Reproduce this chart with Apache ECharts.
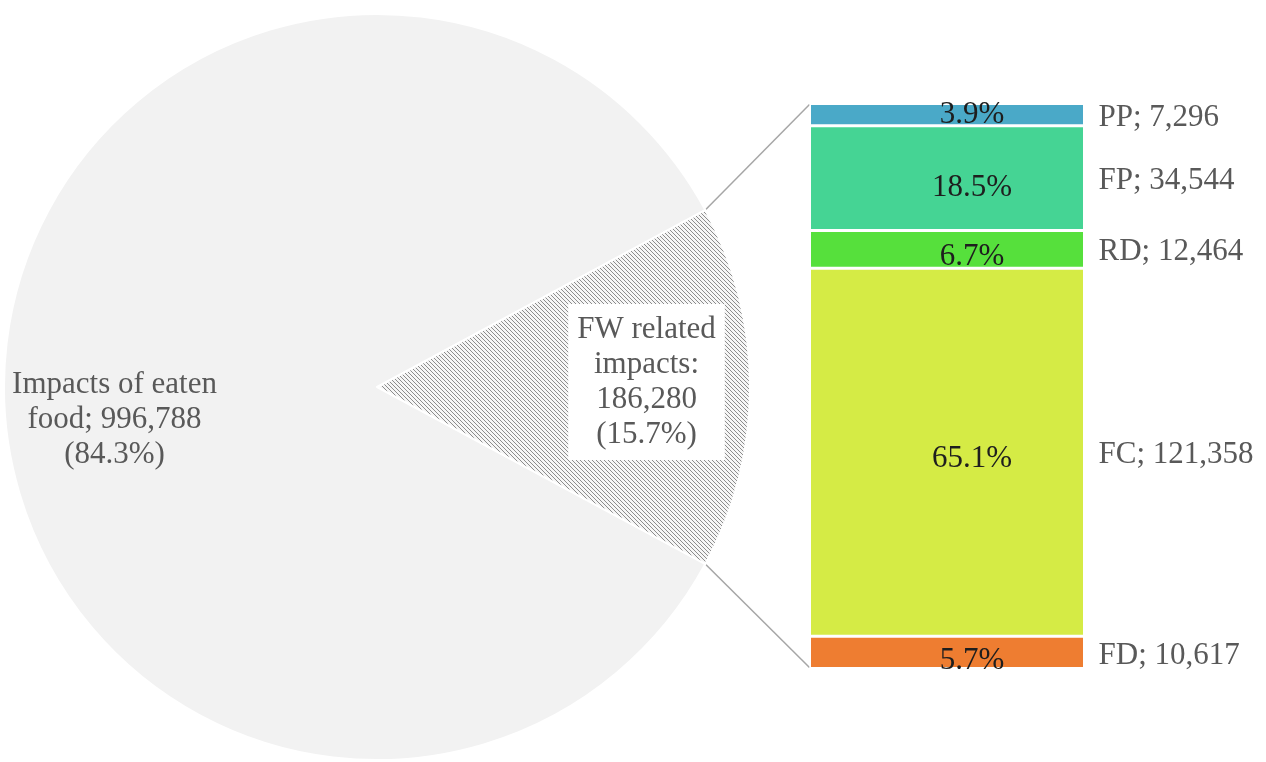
<!DOCTYPE html>
<html>
<head>
<meta charset="utf-8">
<script src="https://cdn.jsdelivr.net/npm/echarts@6/dist/echarts.min.js"></script>
<style>html,body{margin:0;padding:0;background:#fff;}#c{width:1266px;height:762px;}</style>
</head>
<body>
<div id="c"></div>
<script>
// ---- data ----
const pieNames = ['FW related impacts', 'Impacts of eaten food'];
const pieValues = [186280, 996788];
const piePercents = ['15.7%', '84.3%'];

// bar segments, listed bottom to top
const barNames = ['FD', 'FC', 'RD', 'FP', 'PP'];
const barValues = [10617, 121358, 12464, 34544, 7296];
const barPercents = ['5.7%', '65.1%', '6.7%', '18.5%', '3.9%'];

// ---- styling ----
const barColors = ['#EE7D31', '#D5EB45', '#56E03C', '#45D494', '#4AA9C8'];
const pctOffsetY = [8, 7, 8, 10, 0];
const FONT = 'Liberation Serif, Times New Roman, serif';
const FS = 31;
const PIE_CENTER = [377, 387];
const PIE_R = 373;

function hatch() {
  const c = document.createElement('canvas');
  c.width = 4; c.height = 4;
  const g = c.getContext('2d');
  g.fillStyle = '#f6f6f6';
  g.fillRect(0, 0, 4, 4);
  g.strokeStyle = '#8c8c8c';
  g.lineWidth = 1;
  g.beginPath();
  g.moveTo(-1, -1); g.lineTo(5, 5);
  g.moveTo(-1, 3); g.lineTo(1, 5);
  g.moveTo(3, -1); g.lineTo(5, 1);
  g.stroke();
  return c;
}

const barTotal = barValues.reduce((a, b) => a + b, 0);
const pieTotal = pieValues.reduce((a, b) => a + b, 0);
const halfAngleDeg = pieValues[0] / pieTotal * 180;

const chart = echarts.init(document.getElementById('c'), null, {renderer: 'canvas'});

const series = [];
series.push({
  type: 'pie',
  center: PIE_CENTER,
  radius: PIE_R,
  startAngle: halfAngleDeg,
  clockwise: true,
  silent: true,
  animation: false,
  emphasis: {disabled: true},
  labelLine: {show: false},
  itemStyle: {borderColor: '#ffffff', borderWidth: 2},
  label: {
    show: true,
    position: 'inside',
    fontFamily: FONT,
    fontSize: FS,
    color: '#595959',
    lineHeight: 35,
    align: 'center'
  },
  labelLayout: function (p) {
    if (p.dataIndex === 0) return {dx: 40, dy: -2.5};
    return {dx: -36.5, dy: 16.5};
  },
  data: [
    {
      name: pieNames[0], value: pieValues[0],
      itemStyle: {color: {image: hatch(), repeat: 'repeat'}},
      label: {
        formatter: 'FW related\nimpacts:\n' + pieValues[0].toLocaleString('en-US') + '\n(' + piePercents[0] + ')',
        backgroundColor: '#ffffff',
        padding: [8, 9]
      }
    },
    {
      name: pieNames[1], value: pieValues[1],
      itemStyle: {color: '#F2F2F2'},
      label: {
        formatter: 'Impacts of eaten\nfood; ' + pieValues[1].toLocaleString('en-US') + '\n(' + piePercents[1] + ')'
      }
    }
  ]
});

barNames.forEach((n, i) => {
  series.push({
    type: 'bar',
    name: n,
    stack: 'seg',
    barWidth: '100%',
    barGap: '-100%',
    silent: true,
    animation: false,
    itemStyle: {color: barColors[i], borderColor: '#ffffff', borderWidth: 1.5},
    label: {
      show: true,
      position: 'inside',
      offset: [25, pctOffsetY[i]],
      formatter: barPercents[i],
      fontFamily: FONT,
      fontSize: FS,
      color: '#1e1e1e'
    },
    data: [barValues[i]]
  });
});
barNames.forEach((n, i) => {
  series.push({
    type: 'bar',
    name: n + ' label',
    stack: 'lab',
    barWidth: '100%',
    barGap: '-100%',
    silent: true,
    animation: false,
    itemStyle: {color: 'rgba(0,0,0,0)'},
    label: {
      show: true,
      position: 'right',
      distance: 14,
      offset: [0, 3],
      formatter: n + '; ' + barValues[i].toLocaleString('en-US'),
      fontFamily: FONT,
      fontSize: FS,
      color: '#595959'
    },
    data: [barValues[i]]
  });
});

chart.setOption({
  backgroundColor: '#ffffff',
  animation: false,
  grid: {left: 809.5, top: 103.5, width: 275, height: 565, containLabel: false},
  xAxis: {type: 'category', data: ['FW'], show: false},
  yAxis: {type: 'value', min: 0, max: barTotal, show: false},
  series: series
});

// connector lines from pie slice edges to bar corners
function drawConnectors() {
  const lay = chart.getModel().getSeriesByIndex(0).getData().getItemLayout(0);
  const cx = lay.cx, cy = lay.cy, r = lay.r;
  const a0 = lay.startAngle, a1 = lay.endAngle;
  const p0 = [cx + r * Math.cos(a0), cy + r * Math.sin(a0)];
  const p1 = [cx + r * Math.cos(a1), cy + r * Math.sin(a1)];
  const rect = chart.getModel().getComponent('grid', 0).coordinateSystem.getRect();
  const top = [rect.x, rect.y + 1];
  const bot = [rect.x, rect.y + rect.height - 1];
  const up = p0[1] < p1[1] ? p0 : p1;
  const dn = p0[1] < p1[1] ? p1 : p0;
  chart.setOption({
    graphic: [
      {type: 'line', shape: {x1: up[0], y1: up[1], x2: top[0], y2: top[1]}, style: {stroke: '#A6A6A6', lineWidth: 1.5}, silent: true},
      {type: 'line', shape: {x1: dn[0], y1: dn[1], x2: bot[0], y2: bot[1]}, style: {stroke: '#A6A6A6', lineWidth: 1.5}, silent: true}
    ]
  });
}
drawConnectors();
</script>
</body>
</html>
